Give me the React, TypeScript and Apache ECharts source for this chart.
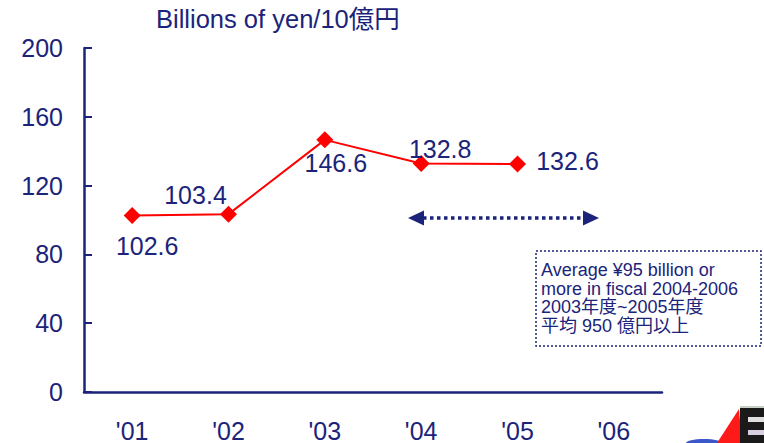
import React, { useEffect, useRef } from "react";
import * as echarts from "echarts";

const categories = ["'01", "'02", "'03", "'04", "'05", "'06"];
const values = [102.6, 103.4, 146.6, 132.8, 132.6];
const labelOffsets: [number, number][] = [
  [15, 30],
  [-33, -19],
  [11, 23],
  [19, -15],
  [50, -3],
];
const yTicks = { min: 0, max: 200, interval: 40 };
const titleText = "Billions of yen/10億円";
const noteLines = [
  "Average ¥95 billion or",
  "more in fiscal 2004-2006",
  "2003年度~2005年度",
  "平均 950 億円以上",
];

const NAVY = "#1b247a";
const FONT = "'Liberation Sans', Arial, 'Noto Sans CJK JP', sans-serif";

export default function App() {
  const ref = useRef<HTMLDivElement>(null);
  useEffect(() => {
    if (!ref.current) return;
    const chart = echarts.init(ref.current, undefined, { renderer: "svg" });
    chart.setOption({
      animation: false,
      backgroundColor: "#ffffff",
      grid: { left: 84, top: 48, width: 578, height: 344, containLabel: false },
      xAxis: {
        type: "category",
        data: categories,
        boundaryGap: true,
        axisLine: { lineStyle: { color: NAVY, width: 2.5 } },
        axisTick: { inside: true, length: 8, lineStyle: { color: NAVY, width: 2 } },
        axisLabel: { color: NAVY, fontSize: 25, fontFamily: FONT, margin: 26 },
        splitLine: { show: false },
      },
      yAxis: {
        type: "value",
        min: yTicks.min,
        max: yTicks.max,
        interval: yTicks.interval,
        axisLine: { show: true, lineStyle: { color: NAVY, width: 2.5 } },
        axisTick: { show: true, inside: true, length: 8, lineStyle: { color: NAVY, width: 2 } },
        axisLabel: { color: NAVY, fontSize: 25, fontFamily: FONT, margin: 21 },
        splitLine: { show: false },
      },
      series: [
        {
          type: "line",
          data: values.map((v, i) => ({
            value: v,
            label: {
              show: true,
              position: "inside",
              offset: labelOffsets[i],
              formatter: String(v),
            },
          })),
          symbol: "diamond",
          symbolSize: 17,
          itemStyle: { color: "#ff0000" },
          lineStyle: { color: "#ff0000", width: 2 },
          label: {
            show: true,
            color: NAVY,
            fontSize: 25,
            fontFamily: FONT,
            align: "center",
            verticalAlign: "middle",
          },
          emphasis: { disabled: true },
        },
      ],
      graphic: [
        {
          type: "text",
          x: 156,
          y: 19,
          style: {
            text: titleText,
            fill: NAVY,
            fontSize: 25.5,
            fontFamily: FONT,
            verticalAlign: "middle",
            align: "left",
          },
        },
        {
          type: "line",
          shape: { x1: 423, y1: 218, x2: 584, y2: 218 },
          style: { stroke: NAVY, lineWidth: 3.5, lineDash: [3.5, 3.5] },
        },
        {
          type: "polygon",
          shape: { points: [[408, 218], [424, 210.5], [424, 225.5]] },
          style: { fill: NAVY },
        },
        {
          type: "polygon",
          shape: { points: [[599, 218], [583, 210.5], [583, 225.5]] },
          style: { fill: NAVY },
        },
        {
          type: "rect",
          shape: { x: 536, y: 251, width: 225, height: 95 },
          style: { fill: "none", stroke: NAVY, lineWidth: 1.5, lineDash: [2, 2] },
        },
        ...noteLines.map((line, i) => ({
          type: "text",
          x: 541,
          y: 270 + i * 18.5,
          style: {
            text: line,
            fill: NAVY,
            fontSize: 18,
            lineHeight: 18,
            fontFamily: FONT,
            align: "left",
            verticalAlign: "middle",
          },
        })),
        {
          type: "ellipse",
          shape: { cx: 704, cy: 443, rx: 18, ry: 4 },
          style: { fill: "#3a58c8" },
        },
        {
          type: "polygon",
          shape: { points: [[717, 443], [739, 409], [742, 443]] },
          style: { fill: "#ff1a1a" },
        },
        {
          type: "rect",
          shape: { x: 740, y: 407, width: 24, height: 36 },
          style: { fill: "#1a1a1a" },
        },
        {
          type: "rect",
          shape: { x: 748, y: 417, width: 16, height: 5 },
          style: { fill: "#e0e0e0" },
        },
        {
          type: "rect",
          shape: { x: 748, y: 430, width: 16, height: 5 },
          style: { fill: "#d8d0e0" },
        },
        {
          type: "rect",
          shape: { x: 740, y: 406, width: 24, height: 2 },
          style: { fill: "#c8d0c8" },
        },
      ],
    });
    return () => chart.dispose();
  }, []);
  return <div ref={ref} style={{ width: 764, height: 443, position: "absolute", left: 0, top: 0 }} />;
}
